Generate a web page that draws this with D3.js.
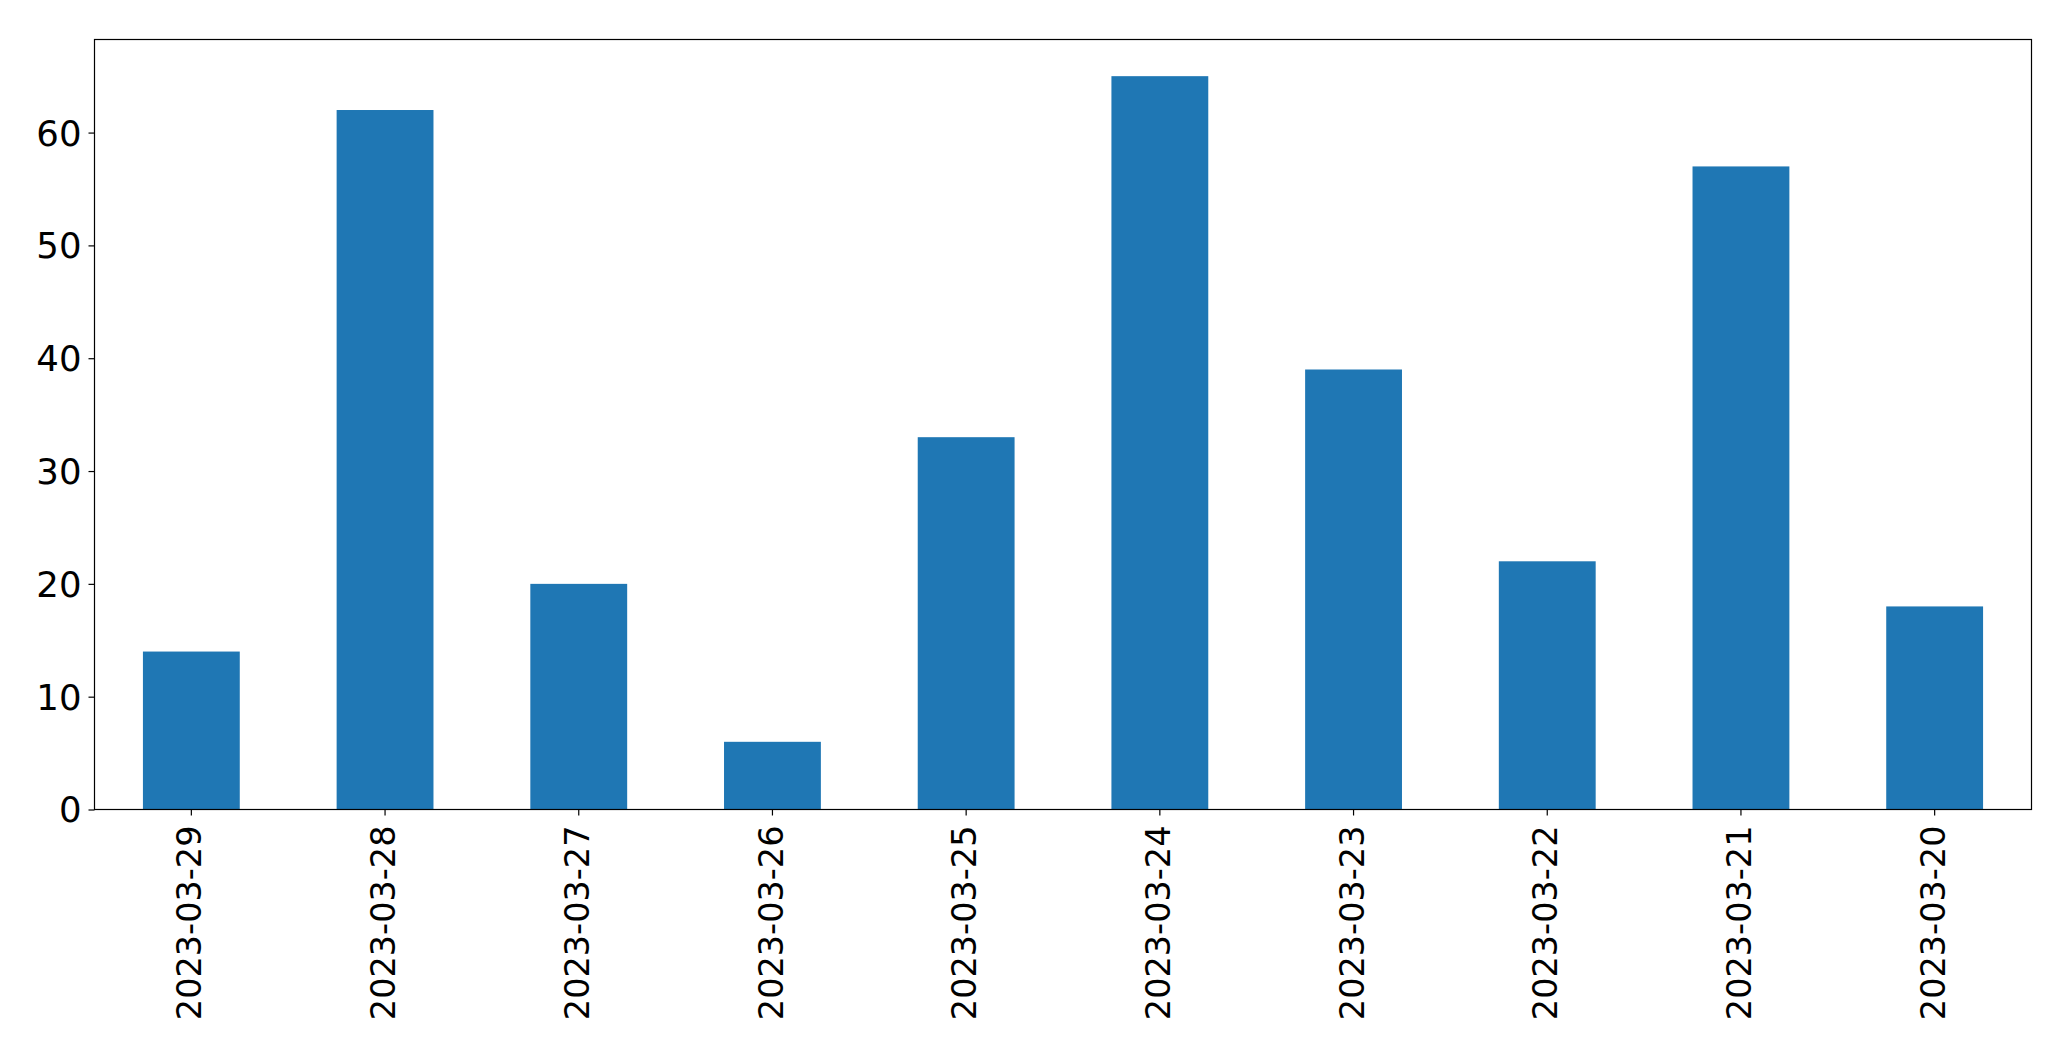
<!DOCTYPE html>
<html>
<head>
<meta charset="utf-8">
<script src="https://cdn.jsdelivr.net/npm/d3@7"></script>
<style>
  html, body { margin: 0; padding: 0; background: #fff; }
  svg { display: block; }
  text { font-family: "DejaVu Sans", sans-serif; fill: #000; }
</style>
</head>
<body>
<script>
const categories = ["2023-03-29","2023-03-28","2023-03-27","2023-03-26","2023-03-25","2023-03-24","2023-03-23","2023-03-22","2023-03-21","2023-03-20"];
const values = [14, 62, 20, 6, 33, 65, 39, 22, 57, 18];
const yTicks = [0, 10, 20, 30, 40, 50, 60];

const W = 2071, H = 1061;
const margin = { left: 94.5, right: W - 2031.5, top: 39.5, bottom: H - 809.5 };
const iw = W - margin.left - margin.right;
const ih = H - margin.top - margin.bottom;

const svg = d3.select("body").append("svg").attr("width", W).attr("height", H);
const g = svg.append("g").attr("transform", `translate(${margin.left},${margin.top})`);

const x = d3.scaleBand().domain(categories).range([0, iw]).paddingInner(0.5).paddingOuter(0.25);
const y = d3.scaleLinear().domain([0, d3.max(values) * 1.05]).range([ih, 0]);

g.selectAll("rect.bar").data(categories).join("rect")
  .attr("class", "bar")
  .attr("x", d => x(d))
  .attr("width", x.bandwidth())
  .attr("y", (d, i) => y(values[i]))
  .attr("height", (d, i) => y(0) - y(values[i]))
  .attr("fill", "#1f77b4");

const yAxis = g.append("g").call(d3.axisLeft(y).tickValues(yTicks).tickSize(6).tickPadding(7).tickFormat(d3.format("d")));
yAxis.select(".domain").remove();
yAxis.selectAll("text").style("font-size", "35.5px").attr("dy", "0.35em");
yAxis.selectAll("line").attr("stroke", "#000").attr("stroke-width", 1.2);

const xAxis = g.append("g").attr("transform", `translate(0,${ih})`)
  .call(d3.axisBottom(x).tickSize(6).tickPadding(0));
xAxis.select(".domain").remove();
xAxis.selectAll("line").attr("stroke", "#000").attr("stroke-width", 1.2);
xAxis.selectAll("text")
  .style("font-size", "33.5px")
  .attr("text-anchor", "end")
  .attr("transform", "rotate(-90)")
  .attr("x", -16)
  .attr("y", 0)
  .attr("dy", "0.3em");

g.append("rect")
  .attr("x", 0).attr("y", 0).attr("width", iw).attr("height", ih)
  .attr("fill", "none").attr("stroke", "#000").attr("stroke-width", 1.2);
</script>
</body>
</html>
